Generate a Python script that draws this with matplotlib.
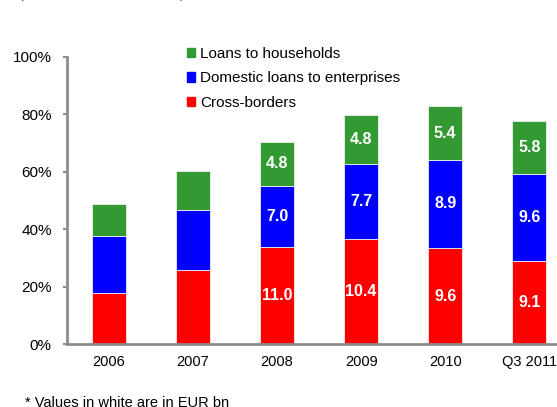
import matplotlib
matplotlib.use("Agg")
import matplotlib.pyplot as plt
import matplotlib.ticker as mtick
import numpy as np
from matplotlib.patches import Patch

plt.rcParams["font.family"] = ["Liberation Sans", "DejaVu Sans"]

# shares of total loans (%)
years = ["2006", "2007", "2008", "2009", "2010", "Q3 2011"]
cross_border = [17.9, 25.9, 33.8, 36.5, 33.4, 28.9]
enterprises = [19.8, 20.9, 21.4, 26.3, 30.8, 30.4]
households = [11.1, 13.5, 15.1, 17.0, 18.6, 18.4]

# labels in EUR bn (blank where the chart has none)
cross_lbl = ["", "", "11.0", "10.4", "9.6", "9.1"]
ent_lbl = ["", "", "7.0", "7.7", "8.9", "9.6"]
hh_lbl = ["", "", "4.8", "4.8", "5.4", "5.8"]

RED, BLUE, GREEN = "#ff0000", "#0000ff", "#339933"
GREY = "#8c8c8c"

W, H = 557, 407
fig = plt.figure(figsize=(W / 100, H / 100), dpi=100)
ax = fig.add_axes([67 / W, (H - 344) / H, (W - 67) / W, 287 / H])

x = np.arange(len(years))
bottom = np.zeros(len(years))
for vals, lbls, col in [(cross_border, cross_lbl, RED),
                        (enterprises, ent_lbl, BLUE),
                        (households, hh_lbl, GREEN)]:
    vals = np.array(vals)
    ax.bar(x, vals, 0.4, bottom=bottom, color=col, edgecolor="#f0f0f0", linewidth=0.6)
    for xi, b, v, t in zip(x, bottom, vals, lbls):
        if t:
            ax.text(xi, b + v / 2, t, ha="center", va="center", color="white",
                    fontsize=11.5, fontweight="bold")
    bottom += vals

ax.set_xlim(-0.5, 5.33)
ax.set_ylim(0, 100)
ax.yaxis.set_major_locator(mtick.MultipleLocator(20))
ax.yaxis.set_major_formatter(mtick.FuncFormatter(lambda v, _: f"{v:.0f}%"))
ax.set_xticks(x)
ax.set_xticklabels(years)
ax.tick_params(axis="x", length=0, pad=8, labelsize=10.5, colors="black")
ax.tick_params(axis="y", length=3, width=1.5, color=GREY, pad=8, labelsize=11)
ax.spines[["top", "right"]].set_visible(False)
for s in ["left", "bottom"]:
    ax.spines[s].set_color(GREY)
    ax.spines[s].set_linewidth(2)

handles = [Patch(color=GREEN, label="Loans to households"),
           Patch(color=BLUE, label="Domestic loans to enterprises"),
           Patch(color=RED, label="Cross-borders")]
fig.legend(handles=handles, loc="upper left", bbox_to_anchor=(187 / W, 1 - 47 / H),
           frameon=False, fontsize=11, handlelength=0.55, handleheight=0.55,
           handletextpad=0.3, labelspacing=0.68, borderpad=0, borderaxespad=0)

fig.text(18 / W, 1 + 2 / H, "(", fontsize=10, va="baseline", color="#444444")
fig.text(180 / W, 1 + 2 / H, ")", fontsize=10, va="baseline", color="#444444")
fig.text(25 / W, 1 - 396 / H, "* Values in white are in EUR bn", fontsize=10.5,
         va="top", ha="left")

fig.savefig("out.png", dpi=100)
